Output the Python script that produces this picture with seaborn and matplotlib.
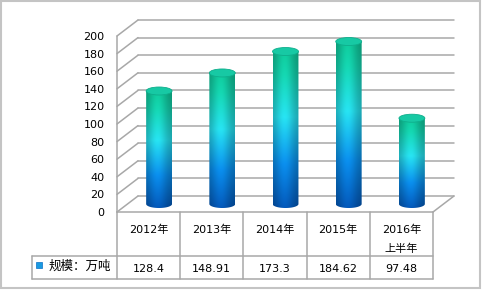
import numpy as np
import pandas as pd
import matplotlib
matplotlib.use("Agg")
import matplotlib.pyplot as plt
import seaborn as sns
from matplotlib.patches import Polygon, Ellipse, Rectangle
from matplotlib.colors import to_rgb

# ---------------- data ----------------
categories = ["2012年", "2013年", "2014年", "2015年", "2016年\n上半年"]
values = [128.4, 148.91, 173.3, 184.62, 97.48]
value_labels = ["128.4", "148.91", "173.3", "184.62", "97.48"]
series_name = "规模：万吨"
y_ticks = [0, 20, 40, 60, 80, 100, 120, 140, 160, 180, 200]

sns.set_style("white")
plt.rcParams["font.family"] = ["DejaVu Sans", "Noto Sans CJK SC"]
FS = 8

W, H = 482, 290
fig = plt.figure(figsize=(W / 100, H / 100), dpi=100)
fig.patch.set_facecolor("white")

# overlay in pixel coordinates (frame + table)
ov = fig.add_axes([0, 0, 1, 1], zorder=0)
ov.set_xlim(0, W)
ov.set_ylim(H, 0)
ov.axis("off")

# front plane of the 3D plot
fx0, fx1, fy0, fy1 = 117, 433, 36, 212
ax = fig.add_axes([fx0 / W, 1 - fy1 / H, (fx1 - fx0) / W, (fy1 - fy0) / H], zorder=1)
ax.set_facecolor("none")

df = pd.DataFrame({"cat": categories, "val": values})
sns.barplot(data=df, x="cat", y="val", ax=ax, width=0.41, color="#1aa0e0")
ax.set_xlim(-0.5, len(categories) - 0.5)
ax.set_ylim(0, 200)
ax.set_yticks(y_ticks)
ax.set_yticklabels([str(t) for t in y_ticks], fontsize=FS, color="#000000")
ax.tick_params(axis="y", length=0, pad=9)
ax.set_xticks([])
ax.set_xlabel("")
ax.set_ylabel("")
for s in ax.spines.values():
    s.set_visible(False)

n = len(categories)
DX = 21 / (fx1 - fx0) * n          # depth in data units
DY = 16 / (fy1 - fy0) * 200
EH = 8 / (fy1 - fy0) * 200         # ellipse height in data units
GRID = "#a8a8a8"

# walls / grid
for t in y_ticks:
    ax.plot([-0.5 + DX, n - 0.5 + DX], [t + DY, t + DY], color=GRID, lw=1.1, clip_on=False, zorder=0.5)
    ax.plot([-0.5, -0.5 + DX], [t, t + DY], color=GRID, lw=1.1, clip_on=False, zorder=0.5)
ax.plot([-0.5, -0.5], [0, 200], color=GRID, lw=1.1, clip_on=False, zorder=0.5)
ax.plot([n - 0.5, n - 0.5 + DX], [0, DY], color=GRID, lw=1.1, clip_on=False, zorder=0.5)

# gradient for cylinders
stops = [(0.0, "#0fc496"), (0.15, "#14d0ac"), (0.42, "#26dcea"), (0.72, "#0a8ae6"), (1.0, "#0456b4")]
rows = 200
tpos = np.linspace(0, 1, rows)
col = np.zeros((rows, 3))
sp = [s[0] for s in stops]
for c in range(3):
    col[:, c] = np.interp(tpos, sp, [to_rgb(s[1])[c] for s in stops])
u = np.linspace(0, 1, 60)
shade = 0.74 + 0.3 * np.exp(-((u - 0.45) / 0.36) ** 2)
img = np.clip(col[:, None, :] * shade[None, :, None], 0, 1)

for rect in list(ax.patches):
    x0 = rect.get_x() + DX / 2
    w = rect.get_width()
    h = rect.get_height()
    y0 = DY / 2
    rect.set_visible(False)
    cx = x0 + w / 2
    top = y0 + h
    ang = np.linspace(np.pi, 2 * np.pi, 40)
    verts = [(x0, top), (x0, y0)]
    verts += [(cx + w / 2 * np.cos(a), y0 + EH / 2 * np.sin(a)) for a in ang]
    verts += [(x0 + w, top)]
    clip = Polygon(verts, closed=True, transform=ax.transData, facecolor="none", edgecolor="none")
    im = ax.imshow(img, extent=[x0, x0 + w, y0 - EH / 2, top], aspect="auto",
                   interpolation="bilinear", zorder=2, origin="upper")
    im.set_clip_path(clip)
    ax.add_patch(Ellipse((cx, top), w, EH, facecolor="#17c9a4", edgecolor="#0eae8c", lw=0.6, zorder=3))

ax.set_xlim(-0.5, n - 0.5)
ax.set_ylim(0, 200)

# ---------------- table (pixel coords) ----------------
def to_px(x, y):
    px, py = ax.transData.transform((x, y))
    return px, H - py

bounds = [to_px(i - 0.5, 0)[0] for i in range(n + 1)]
ytop = to_px(0, 0)[1]
yrow = ytop + 44
ybot = ytop + 67
xleg = 32
LC = "#a8a8a8"
ov.plot([bounds[0], bounds[-1]], [ytop, ytop], color=LC, lw=1.1)
ov.plot([xleg, bounds[-1]], [yrow, yrow], color=LC, lw=1.1)
ov.plot([xleg, bounds[-1]], [ybot, ybot], color=LC, lw=1.1)
for b in bounds:
    ov.plot([b, b], [ytop, ybot], color=LC, lw=1.1)
ov.plot([xleg, xleg], [yrow, ybot], color=LC, lw=1.1)

for i in range(n):
    cxp = (bounds[i] + bounds[i + 1]) / 2
    ov.text(cxp, ytop + 13, categories[i], ha="center", va="top", fontsize=FS,
            linespacing=1.95, color="black")
    ov.text(cxp, (yrow + ybot) / 2 + 1, value_labels[i], ha="center", va="center",
            fontsize=FS, color="black")

ov.add_patch(Rectangle((36, 262), 6, 6, facecolor="#1a9ae0", edgecolor="#0a70c8", lw=0.5))
ov.text(49, (yrow + ybot) / 2 - 1, series_name, ha="left", va="center", fontsize=FS + 1,
        color="black")

# outer frame
ov.add_patch(Rectangle((1, 1), W - 3, H - 3, facecolor="none", edgecolor="#c4c4c4", lw=1.5))

fig.savefig("out.png", dpi=100)
